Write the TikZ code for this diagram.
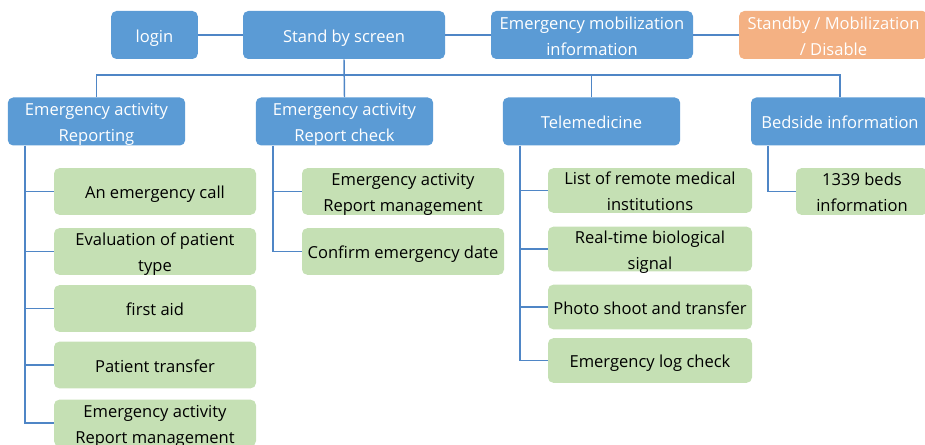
\documentclass[tikz,border=0pt]{standalone}
\usepackage{fontspec}
\setmainfont{Open Sans}
\usepackage{xcolor}
\usepackage{tikz}
\usetikzlibrary{positioning}

\definecolor{menublue}{HTML}{5B9BD5}
\definecolor{itemgreen}{HTML}{C5E0B4}
\definecolor{stateorange}{HTML}{F4B183}
\definecolor{linkblue}{HTML}{4F86C6}

\begin{document}
\begin{tikzpicture}[x=0.75pt, y=-0.75pt,
            every node/.style={font=\fontsize{12.4}{19.5}\selectfont, align=center, inner sep=0pt,
                    text height=14.4pt, text depth=3.5pt},
            twoline/.style={text height=31.9pt, text depth=1.5pt},
            menu/.style={fill=menublue, text=white, rounded corners=4pt, minimum height=36pt},
            state/.style={fill=stateorange, text=white, rounded corners=4pt, minimum height=36pt},
            item/.style={fill=itemgreen, text=black, rounded corners=4pt, minimum width=151.5pt, minimum height=35pt},
            link/.style={draw=linkblue, line width=1.1pt},
        ]
        \useasboundingbox (0,0) rectangle (925,445);

        % top row
        \node[menu, minimum width=65pt] (login) at (154.5,35) {login};
        \node[menu, minimum width=151.5pt] (stand) at (344,35) {Stand by screen};
        \node[menu, twoline, minimum width=151.5pt] (mobil) at (592,35) {Emergency mobilization\\information};
        \node[state, twoline, minimum width=141.75pt] (state) at (833.5,35) {Standby / Mobilization\\/ Disable};

        % menus
        \node[menu, twoline, minimum width=133pt] (rep) at (96.5,121.5) {Emergency activity\\Reporting};
        \node[menu, twoline, minimum width=133pt] (chk) at (344.5,121.5) {Emergency activity\\Report check};
        \node[menu, minimum width=133pt] (tele) at (591.5,121.5) {Telemedicine};
        \node[menu, minimum width=133.5pt] (bed) at (840,121.5) {Bedside information};

        % sub items
        \node[item] (call) at (155,191.5) {An emergency call};
        \node[item, twoline] (eval) at (155,251.5) {Evaluation of patient\\type};
        \node[item] (aid) at (155,308.5) {first aid};
        \node[item] (move) at (155,365) {Patient transfer};
        \node[item, twoline] (mgmt) at (155,423) {Emergency activity\\Report management};

        \node[item, twoline] (chkmgmt) at (403,191.5) {Emergency activity\\Report management};
        \node[item] (date) at (403,251.5) {Confirm emergency date};

        \node[item, twoline, minimum width=153pt, minimum height=33.5pt] (list) at (650,190.5) {List of remote medical\\institutions};
        \node[item, twoline, minimum width=153pt, minimum height=33.5pt] (signal) at (650,249) {Real-time biological\\signal};
        \node[item, minimum width=153pt, minimum height=33.5pt] (photo) at (650,307) {Photo shoot and transfer};
        \node[item, minimum width=153pt, minimum height=33.5pt] (log) at (650,360.5) {Emergency log check};

        \node[item, twoline, minimum width=99pt] (beds) at (862,191.5) {1339 beds\\information};

        \coordinate (bus) at (344,75);

        \draw[link] (login) -- (stand);
        \draw[link] (stand) -- (mobil);
        \draw[link] (mobil) -- (state);
        \draw[link] (rep.north) |- (bus) -| (bed.north);
        \draw[link] (stand.south) -- (chk.north);
        \draw[link] (tele.north) -- (tele.north |- bus);

        \foreach \p/\kids in {rep/{call,eval,aid,move,mgmt}, chk/{chkmgmt,date},
                tele/{list,signal,photo,log}, bed/{beds}}
            \foreach \c in \kids
                \draw[link] ([xshift=13pt]\p.south west) |- (\c.west);

    \end{tikzpicture}
\end{document}
